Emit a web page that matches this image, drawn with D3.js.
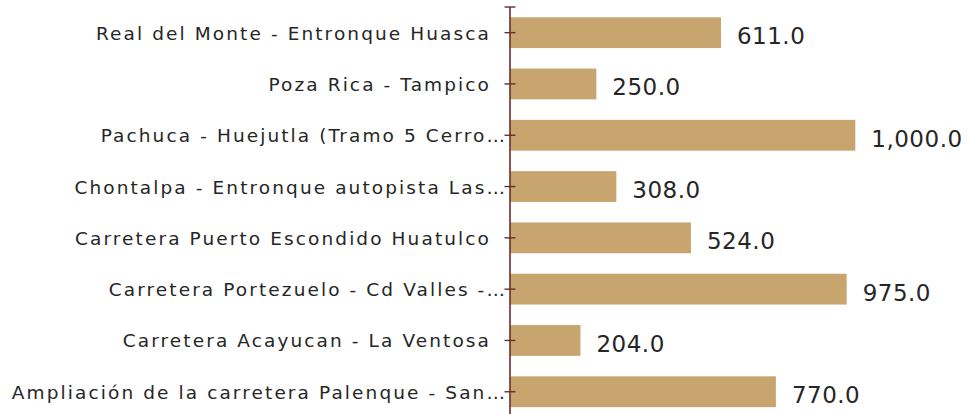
<!DOCTYPE html>
<html><head><meta charset="utf-8">
<script src="https://cdn.jsdelivr.net/npm/d3@7"></script>
<style>
html,body{margin:0;padding:0;background:#fff;}
svg{display:block;}
text{font-family:"DejaVu Sans",sans-serif;fill:#262626;}
</style></head>
<body><svg id="c" width="968" height="414"></svg>
<script>
const categories = [
  "Real del Monte - Entronque Huasca",
  "Poza Rica - Tampico",
  "Pachuca - Huejutla (Tramo 5 Cerro…",
  "Chontalpa - Entronque autopista Las…",
  "Carretera Puerto Escondido Huatulco",
  "Carretera Portezuelo - Cd Valles -…",
  "Carretera Acayucan - La Ventosa",
  "Ampliación de la carretera Palenque - San…"
];
const values = [611.0, 250.0, 1000.0, 308.0, 524.0, 975.0, 204.0, 770.0];

const svg = d3.select("#c");
const x0 = 510;
const x = d3.scaleLinear().domain([0, 1000]).range([x0, x0 + 345.3]);
const y = d3.scaleBand().domain(categories).range([7, 417.4]).paddingInner(0.4).paddingOuter(0.2);

svg.selectAll("rect.bar").data(values).enter().append("rect")
  .attr("class","bar")
  .attr("x", x(0))
  .attr("y", (d,i)=>y(categories[i]))
  .attr("width", d=>x(d)-x(0))
  .attr("height", y.bandwidth())
  .attr("fill", "#C8A46E");

// axis
const axisColor = "#6B2C2C";
svg.append("line").attr("x1",x0).attr("x2",x0).attr("y1",7).attr("y2",417)
  .attr("stroke",axisColor).attr("stroke-width",1.6);
const tickYs = [7].concat(categories.map(c=>y(c)+y.bandwidth()/2));
svg.selectAll("line.tick").data(tickYs).enter().append("line")
  .attr("x1",x0-5.5).attr("x2",x0+5.5).attr("y1",d=>d).attr("y2",d=>d)
  .attr("stroke",axisColor).attr("stroke-width",1.4);

svg.selectAll("text.lab").data(categories).enter().append("text")
  .attr("class","lab")
  .attr("x", d=>d.endsWith("…") ? 507 : 491)
  .attr("y", d=>y(d)+y.bandwidth()/2)
  .attr("dy","0.38em")
  .attr("text-anchor","end")
  .style("font-size","18.5px")
  .style("letter-spacing","2.1px")
  .text(d=>d);

const fmt = d3.format(",.1f");
svg.selectAll("text.val").data(values).enter().append("text")
  .attr("class","val")
  .attr("x", d=>x(d)+16)
  .attr("y", (d,i)=>y(categories[i])+y.bandwidth()/2)
  .attr("dy","0.5em")
  .style("font-size","23px")
  .style("letter-spacing","0.5px")
  .text(d=>fmt(d));
</script></body></html>
